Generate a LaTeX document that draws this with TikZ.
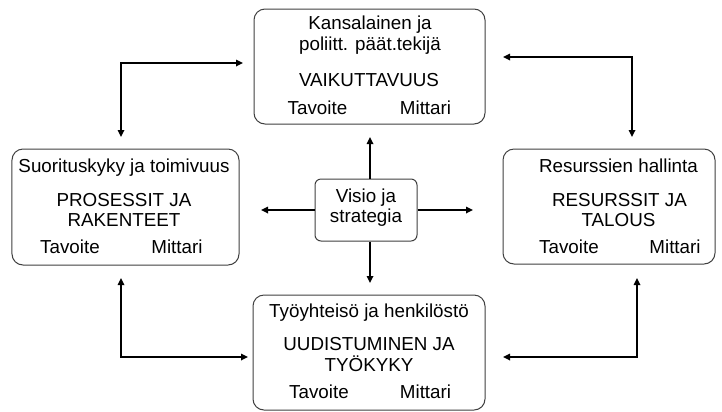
\documentclass[tikz,border=0pt]{standalone}
\usepackage{fontspec}
\setmainfont{Liberation Sans}
\usetikzlibrary{arrows.meta}
\tikzset{
  bigbox/.style={draw=black!75, line width=1bp, rounded corners=11bp, inner sep=0pt, fill=white},
  visbox/.style={draw=black!75, line width=1bp, rounded corners=6bp, inner sep=0pt, fill=white},
  txt/.style={anchor=base, inner sep=0pt, font=\fontsize{18.8bp}{20.5bp}\selectfont},
  conn/.style={line width=1.6bp, -{Triangle[length=7bp,width=6.5bp]}},
  bconn/.style={line width=1.6bp, {Triangle[length=7bp,width=6.5bp]}-{Triangle[length=7bp,width=6.5bp]}}
}
\begin{document}
\begin{tikzpicture}[x=1bp,y=-1bp]
\useasboundingbox (0,0) rectangle (722,411);
% boxes
\node[bigbox, minimum width=231bp, minimum height=115bp] (top) at (369.5,66.5) {};
\node[bigbox, minimum width=227bp, minimum height=116bp] (left) at (125.5,207) {};
\node[bigbox, minimum width=212bp, minimum height=115bp] (right) at (609,206.5) {};
\node[bigbox, minimum width=232bp, minimum height=115bp] (bottom) at (369,352.5) {};
\node[visbox, minimum width=102bp, minimum height=62bp] (c) at (366,210) {};
% texts top
\node[txt] (t1) at (370,29) {Kansalainen ja};
\node[txt] (t2) at (370,50) {poliitt. päät.tekijä};
\node[txt] (t3) at (369,86) {VAIKUTTAVUUS};
\node[txt] (t4) at (317.5,114) {Tavoite};
\node[txt] (t5) at (425.5,114) {Mittari};
% texts left
\node[txt] (l1) at (124,172) {Suorituskyky ja toimivuus};
\node[txt] (l2) at (124,206) {PROSESSIT JA};
\node[txt] (l3) at (124,226.5) {RAKENTEET};
\node[txt] (l4) at (70,253) {Tavoite};
\node[txt] (l5) at (177,253) {Mittari};
% texts right
\node[txt] (r1) at (618.5,172) {Resurssien hallinta};
\node[txt] (r2) at (619.5,206.5) {RESURSSIT JA};
\node[txt] (r3) at (618.5,226.5) {TALOUS};
\node[txt] (r4) at (569,253) {Tavoite};
\node[txt] (r5) at (675,253) {Mittari};
% texts bottom
\node[txt] (b1) at (369,317) {Työyhteisö ja henkilöstö};
\node[txt] (b2) at (369,350) {UUDISTUMINEN JA};
\node[txt] (b3) at (369,371) {TYÖKYKY};
\node[txt] (b4) at (319,398) {Tavoite};
\node[txt] (b5) at (425.5,398) {Mittari};
% texts center
\node[txt] (c1) at (366,202) {Visio ja};
\node[txt] (c2) at (366,222) {strategia};
% free ends
\coordinate (cu) at (370,137);
\coordinate (cd) at (370,283);
\coordinate (cl) at (261,210);
\coordinate (cr) at (473,210);
\coordinate (tl1) at (243,63);
\coordinate (tl2) at (121,137);
\coordinate (tr1) at (503,57);
\coordinate (tr2) at (632,137);
\coordinate (bl1) at (121,278);
\coordinate (bl2) at (248,357);
\coordinate (br1) at (637,278);
\coordinate (br2) at (503,357);
% connectors
\draw[conn] (cu |- c.north) -- (cu);
\draw[conn] (cd |- c.south) -- (cd);
\draw[conn] (c.west |- cl) -- (cl);
\draw[conn] (c.east |- cr) -- (cr);
\draw[bconn] (tl1) -- (tl1 -| tl2) -- (tl2);
\draw[bconn] (tr1) -- (tr1 -| tr2) -- (tr2);
\draw[bconn] (bl1) -- (bl1 |- bl2) -- (bl2);
\draw[bconn] (br1) -- (br1 |- br2) -- (br2);
\end{tikzpicture}
\end{document}
